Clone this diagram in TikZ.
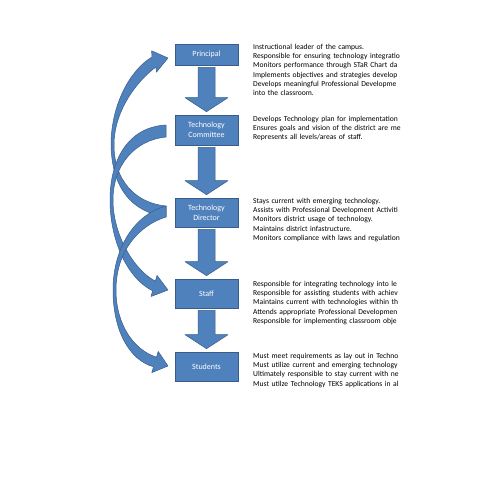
\documentclass[tikz,border=0pt]{standalone}
\usepackage{fontspec}
\setmainfont{Carlito}
\usetikzlibrary{calc}
\definecolor{boxblue}{HTML}{4F81BD}
\definecolor{edgeblue}{HTML}{385D8A}
\newcommand\blockarrow[2]{\draw[blk] let \p1=(#1.south), \p2=(#2.north) in
  (\x1-8.5pt,\y1-2pt) -- (\x1+8.5pt,\y1-2pt) -- (\x1+8.5pt,\y2+17pt) -- (\x1+21.5pt,\y2+17pt)
  -- (\x1,\y2+3pt) -- (\x1-21.5pt,\y2+17pt) -- (\x1-8.5pt,\y2+17pt) -- cycle;}
\begin{document}
\begin{tikzpicture}[x=1pt,y=-1pt,
  box/.style={draw=edgeblue, line width=0.6pt, fill=boxblue, minimum width=63pt,
    text=white, font=\fontsize{8}{9.5}\selectfont, align=center, inner sep=0pt},
  blk/.style={draw=edgeblue, line width=0.5pt, fill=boxblue, line join=round},
  desc/.style={anchor=base west, inner sep=0pt, text width=300pt, align=left,
    font=\fontsize{7.6}{9.2}\selectfont}]
\useasboundingbox[fill=white] (0,0) rectangle (495,495);

% curved arrows
\draw[blk] (166,217) .. controls (133,212) and (112,190) .. (111,145)
  .. controls (111,105) and (130,70) .. (152,57) -- (151.6,50.8) -- (168,58) -- (156.4,72.2) -- (156,67)
  .. controls (138,80) and (114,110) .. (114,145) .. controls (114,180) and (135,203) .. (166,206) -- cycle;
\draw[blk] (166,125) .. controls (128,127) and (110,160) .. (110,200)
  .. controls (110,240) and (127,278) .. (152.6,290.8) -- (151,296.5) -- (168,290) -- (157,275.4) -- (155.4,281.2)
  .. controls (134,270) and (113,235) .. (113,200) .. controls (113,165) and (135,140) .. (166,137) -- cycle;
\draw[blk] (166,206) .. controls (133,215) and (113,250) .. (113,290)
  .. controls (113,330) and (129,360) .. (153.5,366.8) -- (151.8,372.6) -- (168,366) -- (158.2,351.4) -- (156.5,357.2)
  .. controls (134,350) and (116,325) .. (116,290) .. controls (116,250) and (140,225) .. (166,217) -- cycle;

% boxes
\node[box, minimum height=21pt] (p) at (206.5,54.5) {Principal};
\node[box, minimum height=30pt] (c) at (206.5,130) {Technology\\Committee};
\node[box, minimum height=29pt] (d) at (206.5,212.5) {Technology\\Director};
\node[box, minimum height=29pt] (s) at (206.5,293.5) {Staff};
\node[box, minimum height=29pt] (st) at (206.5,366.5) {Students};

\blockarrow{p}{c}
\blockarrow{c}{d}
\blockarrow{d}{s}
\blockarrow{s}{st}

% descriptions
\begin{scope}
\clip (245,30) rectangle (420,395);
\node[desc] (tp) at (253,49.5) {Instructional leader of the campus.\\
Responsible for ensuring technology integratio\\
Monitors performance through STaR Chart da\\
Implements objectives and strategies develop\\
Develops meaningful Professional Developme\\
into the classroom.};
\node[desc] (tc) at (253,121.5) {Develops Technology plan for implementation\\
Ensures goals and vision of the district are me\\
Represents all levels/areas of staff.};
\node[desc] (td) at (253,203.5) {Stays current with emerging technology.\\
Assists with Professional Development Activiti\\
Monitors district usage of technology.\\
Maintains district infastructure.\\
Monitors compliance with laws and regulation};
\node[desc] (ts) at (253,286.5) {Responsible for integrating technology into le\\
Responsible for assisting students with achiev\\
Maintains current with technologies within th\\
Attends appropriate Professional Developmen\\
Responsible for implementing classroom obje};
\node[desc] (tst) at (253,358.5) {Must meet requirements as lay out in Techno\\
Must utilize current and emerging technology\\
Ultimately responsible to stay current with ne\\
Must utilze Technology TEKS applications in al};
\end{scope}
\end{tikzpicture}
\end{document}
